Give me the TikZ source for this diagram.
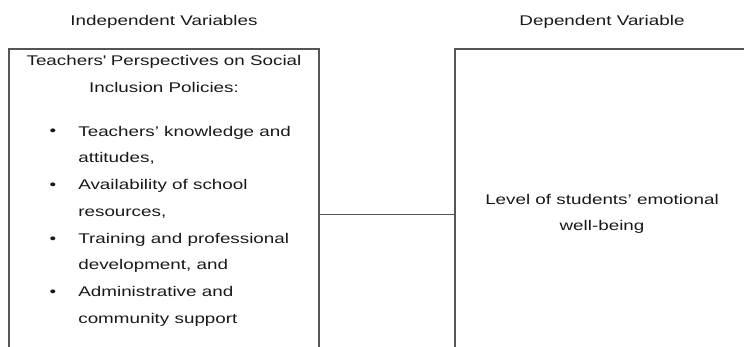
\documentclass[tikz,border=0pt]{standalone}
\usepackage{fontspec}
\setmainfont[FakeStretch=1.34]{Liberation Sans}
\definecolor{linea}{RGB}{85,85,85}
\definecolor{texto}{RGB}{25,25,25}
\tikzset{
  caja/.style={draw=linea, line width=0.9pt},
  letra/.style={text=texto, inner sep=0pt, font=\fontsize{8}{15.2}\selectfont},
}
\begin{document}
\begin{tikzpicture}[x=0.02cm, y=-0.02cm]
    \useasboundingbox (0,0) rectangle (744,347);

    % Títulos
    \node[letra, anchor=base] (indep) at (164,25.7) {Independent Variables};
    \node[letra, anchor=base] (dep) at (602,25.7) {Dependent Variable};

    % Cajas
    \node[caja, minimum width=6.2cm, minimum height=6.62cm] (izq) at (164,214.5) {};
    \node[caja, minimum width=5.88cm, minimum height=6.62cm] (der) at (602,214.5) {};

    % Conector
    \draw[linea, line width=0.9pt] (izq) -- (der);

    % Encabezado de la caja izquierda (base = última línea)
    \node[letra, align=center, anchor=base] (enc) at (164,92.3)
        {Teachers\textquotesingle{} Perspectives on Social\\Inclusion Policies:};

    % Viñetas
    \foreach \i/\punto in {0/{Teachers’ knowledge and\\attitudes,},
                           1/{Availability of school\\resources,},
                           2/{Training and professional\\development, and},
                           3/{Administrative and\\community support}} {
        \node[letra, anchor=base] (b\i) at (53,{136+53.6*\i}) {\textbullet};   % punto
        \node[letra, align=left, anchor=base west] (t\i) at (78,{162.8+53.6*\i}) {\punto};
    }

    % Texto de la caja derecha
    \node[letra, align=center, anchor=base] (nivel) at (602,231)
        {Level of students’ emotional\\well-being};
\end{tikzpicture}
\end{document}
